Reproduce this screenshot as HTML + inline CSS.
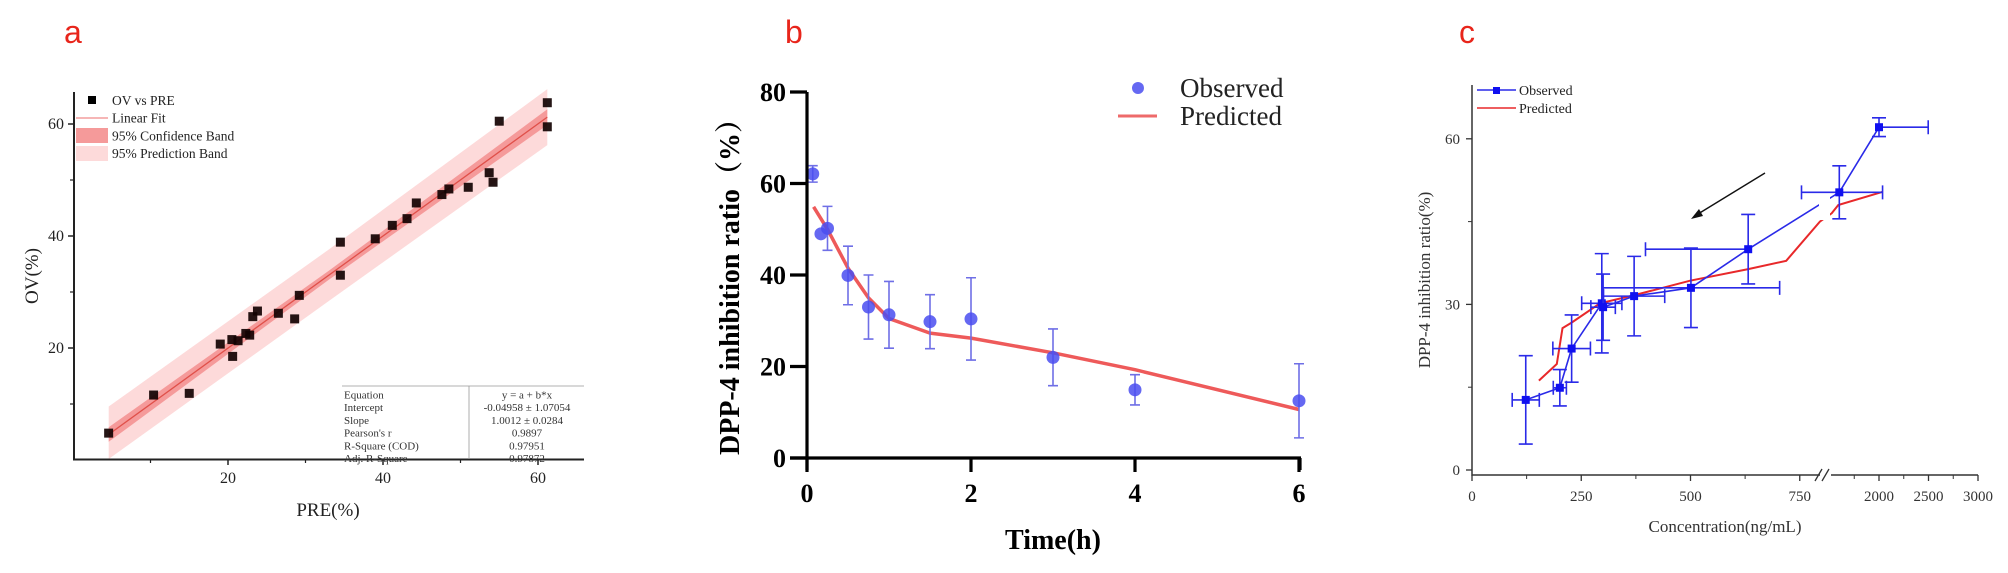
<!DOCTYPE html>
<html><head><meta charset="utf-8">
<style>
html,body{margin:0;padding:0;background:#fff;}
svg{display:block;font-family:"Liberation Serif",serif;}
</style></head>
<body>
<svg id="fig" width="2008" height="573" viewBox="0 0 2008 573" xmlns="http://www.w3.org/2000/svg">
<text x="64" y="43" font-family="Liberation Sans,sans-serif" font-size="32" fill="#e8251b">a</text>
<text x="785" y="43" font-family="Liberation Sans,sans-serif" font-size="32" fill="#e8251b">b</text>
<text x="1459" y="43" font-family="Liberation Sans,sans-serif" font-size="32" fill="#e8251b">c</text>
<g id="pa"></g>
<g id="pb"></g>
<g id="pc"></g>
</svg>
<script>
// ---- Panel a data ----
const aPre = [4.6,10.4,15.0,19.0,20.5,20.6,21.3,22.3,22.8,23.2,23.8,26.5,28.6,29.2,34.5,34.5,39.0,41.2,43.1,44.3,47.6,48.5,51.0,53.7,54.2,55.0,61.2,61.2];
const aOv  = [4.8,11.6,11.9,20.7,21.5,18.5,21.3,22.6,22.3,25.6,26.6,26.2,25.2,29.4,38.9,33.0,39.5,41.9,43.1,45.9,47.4,48.4,48.7,51.3,49.6,60.5,63.8,59.5];
const aFit = [-0.04958, 1.0012];
const aConf = [1.3, 0.8, 1.4];
const aPred = [5.0, 4.6, 5.0];
const aXTicks = [20,40,60];
const aYTicks = [20,40,60];
const aStatLabels = ["Equation","Intercept","Slope","Pearson's r","R-Square (COD)","Adj. R-Square"];
const aStatValues = ["y = a + b*x","-0.04958 ± 1.07054","1.0012 ± 0.0284","0.9897","0.97951","0.97872"];
// ---- Panel b data ----
const bTime = [0.07,0.17,0.25,0.5,0.75,1,1.5,2,3,4,6];
const bObs  = [62.1,49.0,50.2,39.9,33.0,31.3,29.8,30.4,22.0,14.9,12.5];
const bErr  = [1.8,0,4.8,6.4,7.0,7.3,5.9,9.0,6.2,3.3,8.1];
const bPredT = [0.08,0.25,0.5,0.75,1,1.5,2,3,4,6];
const bPredY = [54.9,50.0,41.5,35.0,30.5,27.3,26.2,23.0,19.3,10.6];
const bXTicks = [0,2,4,6];
const bYTicks = [0,20,40,60,80];
// ---- Panel c data ----
const cConc = [123,201,228,297,300,371,501,632,1599,2000];
const cObs  = [12.7,14.9,22.0,30.2,29.5,31.5,33.0,40.0,50.3,62.1];
const cXLo  = [31,15,43,46,28,70,203,235,845,0];
const cXHi  = [31,15,43,46,28,70,203,0,437,497];
const cYErr = [8,3.3,6.1,9,6,7.2,7.2,6.3,4.8,1.7];
const cPredC = [153,194,207,228,293,373,499,632,719,796,1522,1589,2037];
const cPredY = [16.2,19.2,25.7,26.7,30.2,31.7,34.3,36.4,37.9,45.0,46.5,48.0,50.4];
const cXTicks = [0,250,500,750,2000,2500,3000];
const cXMinor = [125,375,625,1750,2250,2750];
const cYTicks = [0,30,60];
const cYMinor = [15,45];

const NS="http://www.w3.org/2000/svg";
function mk(parent,tag,attrs,text){const e=document.createElementNS(NS,tag);for(const k in attrs)e.setAttribute(k,attrs[k]);if(text!==undefined)e.textContent=text;parent.appendChild(e);return e;}

// ===== Panel A =====
(function(){
const g=document.getElementById('pa');
const X=v=>73+v*7.75, Y=v=>460-v*5.6;
const fit=x=>aFit[0]+aFit[1]*x;
const x0=4.6,xm=33,x1=61.2;
function band(w,fill,name){
  const top=[[x0,fit(x0)+w[0]],[xm,fit(xm)+w[1]],[x1,fit(x1)+w[2]]];
  const bot=[[x1,fit(x1)-w[2]],[xm,fit(xm)-w[1]],[x0,fit(x0)-w[0]]];
  const d='M'+top.concat(bot).map(p=>X(p[0]).toFixed(1)+','+Math.min(459,Y(p[1])).toFixed(1)).join('L')+'Z';
  const p=mk(g,'path',{d:d,fill:fill});
  
  
}
band(aPred,'#fddada','prediction-band');
band(aConf,'#f59a9a','confidence-band');
const fl=mk(g,'line',{x1:X(x0),y1:Y(fit(x0)),x2:X(x1),y2:Y(fit(x1)),stroke:'#e0504a','stroke-width':1.3});


aPre.forEach((p,i)=>{
  const r=mk(g,'rect',{x:X(p)-4.5,y:Y(aOv[i])-4.5,width:9,height:9,fill:'#120202','fill-opacity':0.92});
  
  
});
// axes
mk(g,'path',{d:'M74,92 V459.5 H584',stroke:'#222',fill:'none','stroke-width':2});
aXTicks.forEach(t=>{
  mk(g,'line',{x1:X(t),y1:459,x2:X(t),y2:465,stroke:'#222','stroke-width':1.5});
  const tx=mk(g,'text',{x:X(t),y:483,'font-size':16,'text-anchor':'middle',fill:'#222'},String(t));
  
  
});
[10,30,50].forEach(t=>mk(g,'line',{x1:X(t),y1:459,x2:X(t),y2:463,stroke:'#222','stroke-width':1.2}));
aYTicks.forEach(t=>{
  mk(g,'line',{x1:68,y1:Y(t),x2:74,y2:Y(t),stroke:'#222','stroke-width':1.5});
  const tx=mk(g,'text',{x:64,y:Y(t)+5,'font-size':16,'text-anchor':'end',fill:'#222'},String(t));
  
  
});
[10,30,50].forEach(t=>mk(g,'line',{x1:70,y1:Y(t),x2:74,y2:Y(t),stroke:'#222','stroke-width':1.2}));
const xt=mk(g,'text',{x:328,y:516,'font-size':19,'text-anchor':'middle',fill:'#222'},'PRE(%)');

const yt=mk(g,'text',{x:0,y:0,'font-size':19,'text-anchor':'middle',fill:'#222',transform:'translate(38,276) rotate(-90)'},'OV(%)');

// legend
const lg=mk(g,'g',{});

mk(lg,'rect',{x:88,y:96,width:8,height:8,fill:'#000'});
mk(lg,'line',{x1:76,y1:118,x2:108,y2:118,stroke:'#f08a8a','stroke-width':1.2});
mk(lg,'rect',{x:76,y:128,width:32,height:15,fill:'#f59a9a'});
mk(lg,'rect',{x:76,y:146,width:32,height:15,fill:'#fddada'});
['OV vs PRE','Linear Fit','95% Confidence Band','95% Prediction Band'].forEach((s,i)=>{
  const t=mk(lg,'text',{x:112,y:105+i*17.7,'font-size':13.5,fill:'#222'},s);
  
});
// stats table
const tb=mk(g,'g',{});

mk(tb,'line',{x1:342,y1:386,x2:584,y2:386,stroke:'#999','stroke-width':0.8});
mk(tb,'line',{x1:469,y1:386,x2:469,y2:459,stroke:'#999','stroke-width':0.8});
aStatLabels.forEach((s,i)=>{
  mk(tb,'text',{x:344,y:398.5+i*12.7,'font-size':11,fill:'#333'},s);
  mk(tb,'text',{x:527,y:398.5+i*12.7,'font-size':11,fill:'#333','text-anchor':'middle'},aStatValues[i]);
});
})();

// ===== Panel B =====
(function(){
const g=document.getElementById('pb');
const X=v=>807+v*82, Y=v=>458-v*4.575;
const pd='M'+bPredT.map((t,i)=>X(t).toFixed(1)+','+Y(bPredY[i]).toFixed(1)).join('L');
const pl=mk(g,'path',{d:pd,fill:'none',stroke:'#ee5a5a','stroke-width':3.5,'stroke-linejoin':'round'});

bTime.forEach((t,i)=>{
  const grp=mk(g,'g',{});
  
  
  if(bErr[i]>0){
    const y1=Y(bObs[i]+bErr[i]),y2=Y(bObs[i]-bErr[i]),x=X(t);
    mk(grp,'path',{d:`M${x},${y1}V${y2}M${x-5},${y1}H${x+5}M${x-5},${y2}H${x+5}`,stroke:'#6f6fe6','stroke-width':1.6,fill:'none'});
  }
  mk(grp,'circle',{cx:X(t),cy:Y(bObs[i]),r:6.5,fill:'#4a4ef0','fill-opacity':0.85});
});
mk(g,'path',{d:'M807,92 V470 M790,458 H1301 M1300,458 V470',stroke:'#000',fill:'none','stroke-width':3.2});
bYTicks.forEach(t=>{
  mk(g,'line',{x1:790,y1:Y(t),x2:807,y2:Y(t),stroke:'#000','stroke-width':3.2});
  const tx=mk(g,'text',{x:786,y:Y(t)+9,'font-size':26,'font-weight':'bold','text-anchor':'end',fill:'#000'},String(t));
  
});
bXTicks.forEach(t=>{
  mk(g,'line',{x1:X(t),y1:458,x2:X(t),y2:472,stroke:'#000','stroke-width':3.2});
  const tx=mk(g,'text',{x:X(t),y:502,'font-size':26,'font-weight':'bold','text-anchor':'middle',fill:'#000'},String(t));
  
});
const xt=mk(g,'text',{x:1053,y:549,'font-size':28,'font-weight':'bold','text-anchor':'middle',fill:'#000'},'Time(h)');

const yt=mk(g,'text',{x:0,y:0,'font-size':28,'font-weight':'bold','text-anchor':'middle',fill:'#000',transform:'translate(739,280) rotate(-90)'},'DPP-4 inhibition ratio（%）');

yt.style.fontFamily='"Liberation Serif","Noto Serif CJK SC",serif';
const lg=mk(g,'g',{});

mk(lg,'circle',{cx:1138,cy:88,r:6,fill:'#4a4ef0','fill-opacity':0.85});
mk(lg,'line',{x1:1118,y1:116,x2:1157,y2:116,stroke:'#ee6a6a','stroke-width':3});
const t1=mk(lg,'text',{x:1180,y:97,'font-size':27,fill:'#222'},'Observed');

const t2=mk(lg,'text',{x:1180,y:125,'font-size':27,fill:'#222'},'Predicted');

})();

// ===== Panel C =====
(function(){
const g=document.getElementById('pc');
const X=c=>c<=1000?1472+c*0.437:1879+(c-2000)*0.099;
const Y=v=>470-v*5.52;
const pd='M'+cPredC.map((c,i)=>X(c).toFixed(1)+','+Y(cPredY[i]).toFixed(1)).join('L');
const pl=mk(g,'path',{d:pd,fill:'none',stroke:'#e8282a','stroke-width':2});

const od='M'+cConc.map((c,i)=>X(c).toFixed(1)+','+Y(cObs[i]).toFixed(1)).join('L');
const ol=mk(g,'path',{d:od,fill:'none',stroke:'#2a2ae8','stroke-width':1.6});

mk(g,'rect',{x:1819,y:160,width:11,height:60,fill:'#fff'});
cConc.forEach((c,i)=>{
  const grp=mk(g,'g',{});
  
  
  const x=X(c),y=Y(cObs[i]),ya=Y(cObs[i]+cYErr[i]),yb=Y(cObs[i]-cYErr[i]);
  let d=`M${x},${ya}V${yb}M${x-7},${ya}H${x+7}M${x-7},${yb}H${x+7}`;
  if(cXLo[i]>0){const xl=X(c-cXLo[i]);d+=`M${xl},${y}H${x}M${xl},${y-7}V${y+7}`;}
  if(cXHi[i]>0){const xr=X(c+cXHi[i]);d+=`M${x},${y}H${xr}M${xr},${y-7}V${y+7}`;}
  mk(grp,'path',{d:d,stroke:'#2a2ae8','stroke-width':1.6,fill:'none'});
  mk(grp,'rect',{x:x-4,y:y-4,width:8,height:8,fill:'#1010f0'});
});
// arrow
const ar=mk(g,'g',{});

mk(ar,'line',{x1:1765,y1:173,x2:1698,y2:214,stroke:'#111','stroke-width':1.4});
mk(ar,'path',{d:'M1691,219 L1699,209 L1703,216 Z',fill:'#111'});
// axes
mk(g,'path',{d:'M1472,85 V475 H1820 M1831,475 H1978',stroke:'#333',fill:'none','stroke-width':1.5});
mk(g,'path',{d:'M1815,481 L1822,469 M1822,481 L1829,469',stroke:'#333','stroke-width':1.3,fill:'none'});
cXTicks.forEach(t=>{
  mk(g,'line',{x1:X(t),y1:475,x2:X(t),y2:481,stroke:'#333','stroke-width':1.3});
  const tx=mk(g,'text',{x:X(t),y:501,'font-size':15,'text-anchor':'middle',fill:'#333'},String(t));
  
});
cXMinor.forEach(t=>mk(g,'line',{x1:X(t),y1:475,x2:X(t),y2:479,stroke:'#333','stroke-width':1}));
cYTicks.forEach(t=>{
  mk(g,'line',{x1:1466,y1:Y(t),x2:1472,y2:Y(t),stroke:'#333','stroke-width':1.3});
  const tx=mk(g,'text',{x:1460,y:Y(t)+5,'font-size':15,'text-anchor':'end',fill:'#333'},String(t));
  
});
cYMinor.forEach(t=>mk(g,'line',{x1:1468,y1:Y(t),x2:1472,y2:Y(t),stroke:'#333','stroke-width':1}));
const xt=mk(g,'text',{x:1725,y:532,'font-size':17,'text-anchor':'middle',fill:'#333'},'Concentration(ng/mL)');

const yt=mk(g,'text',{x:0,y:0,'font-size':17,'text-anchor':'middle',fill:'#333',transform:'translate(1430,280) rotate(-90)'},'DPP-4 inhibition ratio(%)');

const lg=mk(g,'g',{});

mk(lg,'line',{x1:1477,y1:90,x2:1516,y2:90,stroke:'#2a2ae8','stroke-width':1.5});
mk(lg,'rect',{x:1493,y:87,width:7,height:7,fill:'#1010f0'});
mk(lg,'line',{x1:1477,y1:108,x2:1516,y2:108,stroke:'#e8282a','stroke-width':1.5});
const t1=mk(lg,'text',{x:1519,y:95,'font-size':14,fill:'#222'},'Observed');

const t2=mk(lg,'text',{x:1519,y:113,'font-size':14,fill:'#222'},'Predicted');

})();
</script>
</body></html>
